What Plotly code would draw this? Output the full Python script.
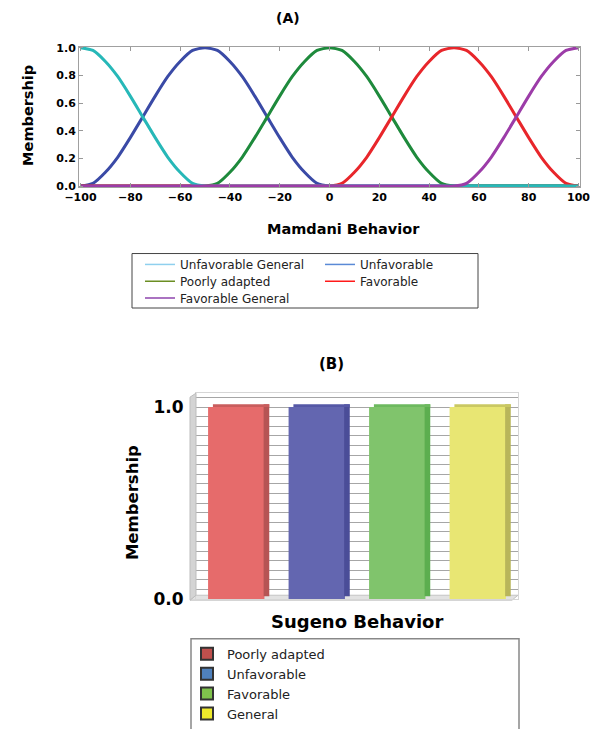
import plotly.graph_objects as go

W, H = 599, 729


def px(x):
    return x / W


def py(y):
    return 1 - y / H


FONT = "DejaVu Sans"

# ---------------- Panel A data (Mamdani) ----------------
behavior_x = [-100, -95, -90, -85, -80, -75, -70, -65, -60, -55, -50, -45, -40, -35,
              -30, -25, -20, -15, -10, -5, 0, 5, 10, 15, 20, 25, 30, 35, 40, 45,
              50, 55, 60, 65, 70, 75, 80, 85, 90, 95, 100]

unfav_general = [1.0, 0.98, 0.90, 0.79, 0.65, 0.50, 0.35, 0.21, 0.10, 0.02, 0.0,
                 0, 0, 0, 0, 0, 0, 0, 0, 0, 0,
                 0, 0, 0, 0, 0, 0, 0, 0, 0, 0,
                 0, 0, 0, 0, 0, 0, 0, 0, 0, 0]
unfavorable = [0.0, 0.02, 0.10, 0.21, 0.35, 0.50, 0.65, 0.79, 0.90, 0.98, 1.0,
               0.98, 0.90, 0.79, 0.65, 0.50, 0.35, 0.21, 0.10, 0.02, 0.0,
               0, 0, 0, 0, 0, 0, 0, 0, 0, 0,
               0, 0, 0, 0, 0, 0, 0, 0, 0, 0]
poorly_adapted = [0, 0, 0, 0, 0, 0, 0, 0, 0, 0,
                  0.0, 0.02, 0.10, 0.21, 0.35, 0.50, 0.65, 0.79, 0.90, 0.98, 1.0,
                  0.98, 0.90, 0.79, 0.65, 0.50, 0.35, 0.21, 0.10, 0.02, 0.0,
                  0, 0, 0, 0, 0, 0, 0, 0, 0, 0]
favorable = [0, 0, 0, 0, 0, 0, 0, 0, 0, 0,
             0, 0, 0, 0, 0, 0, 0, 0, 0, 0,
             0.0, 0.02, 0.10, 0.21, 0.35, 0.50, 0.65, 0.79, 0.90, 0.98, 1.0,
             0.98, 0.90, 0.79, 0.65, 0.50, 0.35, 0.21, 0.10, 0.02, 0.0]
fav_general = [0, 0, 0, 0, 0, 0, 0, 0, 0, 0,
               0, 0, 0, 0, 0, 0, 0, 0, 0, 0,
               0, 0, 0, 0, 0, 0, 0, 0, 0, 0,
               0.0, 0.02, 0.10, 0.21, 0.35, 0.50, 0.65, 0.79, 0.90, 0.98, 1.0]

a_names = ["Unfavorable General", "Unfavorable", "Poorly adapted", "Favorable", "Favorable General"]
a_values = [unfav_general, unfavorable, poorly_adapted, favorable, fav_general]
a_line_colors = ["#27b8b8", "#3a4aa6", "#1e8a3c", "#e8262b", "#9c3ca8"]
a_legend_colors = ["#8fd0ee", "#5a8ad6", "#6b8e23", "#ff1a1a", "#8e44ad"]
draw_order = [1, 2, 3, 0, 4]

# ---------------- Panel B data (Sugeno) ----------------
sugeno_cats = ["Poorly adapted", "Unfavorable", "Favorable", "General"]
sugeno_vals = [1.0, 1.0, 1.0, 1.0]
bar_front = ["#e66b6b", "#6366b0", "#80c46c", "#e8e673"]
bar_side = ["#b65454", "#4a4d98", "#5cae4f", "#b8b55a"]
bar_top = ["#c95d5d", "#5558a6", "#6db95f", "#cac862"]
legend_b_colors = ["#c0504d", "#4f81bd", "#7fc24c", "#eeea2c"]

fig = go.Figure()

# Panel A curves
for i in draw_order:
    fig.add_trace(go.Scatter(
        x=behavior_x, y=a_values[i], mode="lines",
        line=dict(color=a_line_colors[i], width=3, shape="spline", smoothing=0.6),
        showlegend=False, xaxis="x", yaxis="y", hoverinfo="skip"))

# Panel A legend entries: one small legend per grid cell (2 columns x 3 rows)
a_legend_ids = ["legend", "legend2", "legend3", "legend4", "legend5"]
for i, name in enumerate(a_names):
    fig.add_trace(go.Scatter(
        x=[None], y=[None], mode="lines", name=name,
        line=dict(color=a_legend_colors[i], width=1.5),
        legend=a_legend_ids[i], xaxis="x", yaxis="y"))

# Panel B bars (front, side, top faces)
fig.add_trace(go.Bar(
    x=sugeno_cats, y=sugeno_vals, marker=dict(color=bar_front, line=dict(width=0)),
    width=0.7, offset=-0.35, showlegend=False, xaxis="x2", yaxis="y2"))
fig.add_trace(go.Bar(
    x=sugeno_cats, y=sugeno_vals, base=0.015, marker=dict(color=bar_side, line=dict(width=0)),
    width=0.07, offset=0.34, showlegend=False, xaxis="x2", yaxis="y2"))
fig.add_trace(go.Bar(
    x=sugeno_cats, y=[0.015] * len(sugeno_vals), base=sugeno_vals,
    marker=dict(color=bar_top, line=dict(width=0)),
    width=0.7, offset=-0.29, showlegend=False, xaxis="x2", yaxis="y2"))

# Panel B legend entries
for i, name in enumerate(sugeno_cats):
    fig.add_trace(go.Scatter(
        x=[None], y=[None], mode="markers", name=name,
        marker=dict(symbol="square", size=11, color=legend_b_colors[i],
                    line=dict(color="#333333", width=1)),
        legend="legend6", xaxis="x2", yaxis="y2"))

bold_tick = dict(family=FONT, size=11, color="black", weight="bold")
leg_a_font = dict(family=FONT, size=12, color="#222222")
col_x = [140, 320, 140, 320, 140]
row_y = [267, 267, 284, 284, 301]
legend_layouts = {}
for i, lid in enumerate(a_legend_ids):
    legend_layouts[lid] = dict(x=px(col_x[i]), y=py(row_y[i]), xanchor="left", yanchor="middle",
                               bgcolor="rgba(0,0,0,0)", borderwidth=0, font=leg_a_font,
                               orientation="v")

fig.update_layout(
    width=W, height=H,
    margin=dict(l=0, r=0, t=0, b=0),
    paper_bgcolor="white",
    plot_bgcolor="white",
    barmode="overlay",
    font=dict(family=FONT, color="black"),
    xaxis=dict(domain=[px(79), px(580)], range=[-100.6, 100.6], tickvals=list(range(-100, 101, 20)),
               ticks="inside", ticklen=4, tickcolor="#999999", showline=True, linecolor="#a0a0a0",
               linewidth=1, mirror="ticks", showgrid=False, zeroline=False, tickfont=bold_tick,
               automargin=False, anchor="y"),
    yaxis=dict(domain=[py(189), py(47)], range=[-0.008, 1.008], tickvals=[0, 0.2, 0.4, 0.6, 0.8, 1.0],
               tickformat=".1f", ticks="inside", ticklen=4, tickcolor="#999999", showline=True,
               linecolor="#a0a0a0", linewidth=1, mirror="ticks", showgrid=False, zeroline=False,
               tickfont=bold_tick, automargin=False, anchor="x"),
    xaxis2=dict(domain=[px(196), px(518)], range=[-0.5, 3.5], showticklabels=False, ticks="",
                showgrid=False, zeroline=False, showline=True, linecolor="#d6d6d6", mirror=True,
                automargin=False, anchor="y2"),
    yaxis2=dict(domain=[py(605), py(397)], range=[0, 1.072], tickvals=[0, 1], ticktext=["0.0", "1.0"],
                ticks="", showgrid=True, gridcolor="#a6a6a6", gridwidth=1, zeroline=False,
                minor=dict(dtick=0.05, showgrid=True, gridcolor="#a6a6a6", gridwidth=1),
                showline=True, linecolor="#d6d6d6", mirror=True, ticklabelstandoff=8,
                tickfont=dict(family=FONT, size=17, color="black", weight="bold"),
                automargin=False, anchor="x2"),
    legend6=dict(x=px(187), y=py(645), xanchor="left", yanchor="top", bgcolor="rgba(0,0,0,0)",
                 borderwidth=0, font=dict(family=FONT, size=13, color="#222222"),
                 orientation="v", itemsizing="constant", tracegroupgap=0),
    **legend_layouts,
)

fig.update_layout(annotations=[
    dict(text="<b>(A)</b>", x=px(288), y=py(18), xref="paper", yref="paper", showarrow=False,
         xanchor="center", yanchor="middle", font=dict(family=FONT, size=14, color="black")),
    dict(text="<b>Mamdani Behavior</b>", x=px(343), y=py(231), xref="paper", yref="paper",
         xanchor="center", yanchor="middle",
         showarrow=False, font=dict(family=FONT, size=14.5, color="black")),
    dict(text="<b>Membership</b>", x=px(28), y=py(117), xref="paper", yref="paper", textangle=-90,
         xanchor="center", yanchor="middle",
         showarrow=False, font=dict(family=FONT, size=14.5, color="black")),
    dict(text="<b>(B)</b>", x=px(331), y=py(368), xref="paper", yref="paper", showarrow=False,
         xanchor="center", yanchor="middle", font=dict(family=FONT, size=15, color="black")),
    dict(text="<b>Sugeno Behavior</b>", x=px(357), y=py(628), xref="paper", yref="paper",
         xanchor="center", yanchor="middle",
         showarrow=False, font=dict(family=FONT, size=18, color="black")),
    dict(text="<b>Membership</b>", x=px(132), y=py(508), xref="paper", yref="paper", textangle=-90,
         xanchor="center", yanchor="middle",
         showarrow=False, font=dict(family=FONT, size=16.5, color="black")),
])

fig.update_layout(shapes=[
    # legend A box
    dict(type="rect", xref="paper", yref="paper", x0=px(132), x1=px(478), y0=py(311), y1=py(256),
         line=dict(color="#444444", width=1), fillcolor="rgba(0,0,0,0)", layer="below"),
    # panel B left wall
    dict(type="path", xref="paper", yref="paper",
         path=f"M {px(190)},{py(401)} L {px(196)},{py(397)} L {px(196)},{py(601)} L {px(190)},{py(606)} Z",
         fillcolor="#d4d4d4", line=dict(color="#bdbdbd", width=1), layer="above"),
    # panel B floor
    dict(type="path", xref="paper", yref="paper",
         path=f"M {px(190)},{py(606)} L {px(196)},{py(601)} L {px(518)},{py(601)} L {px(512)},{py(606)} Z",
         fillcolor="#e2e2e2", line=dict(color="#c4c4c4", width=1), layer="below"),
    # legend B box (open at the bottom, cut by the page edge)
    dict(type="rect", xref="paper", yref="paper", x0=px(191), x1=px(519), y0=py(740), y1=py(645),
         line=dict(color="#888888", width=1.5), fillcolor="rgba(0,0,0,0)", layer="below"),
])

fig.write_html(
    "out.html",
    config={"displayModeBar": False},
    post_script="document.body.style.margin='0';",
)
